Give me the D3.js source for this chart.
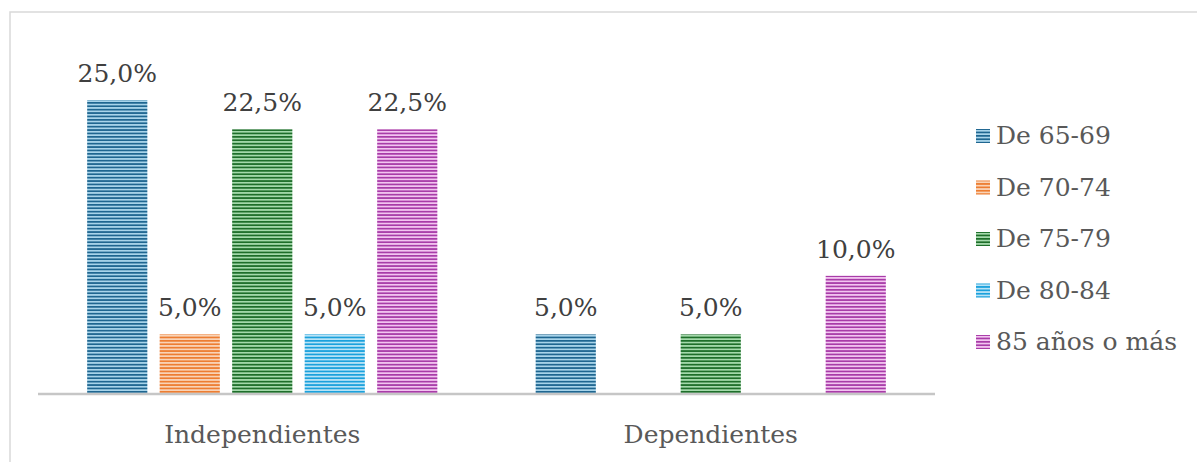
<!DOCTYPE html>
<html>
<head>
<meta charset="utf-8">
<script src="https://cdn.jsdelivr.net/npm/d3@7"></script>
<style>
  body { margin: 0; background: #fff; }
</style>
</head>
<body>
<div class="canvas"></div>
<script>
const categories = ['Independientes', 'Dependientes'];
const series = ['De 65-69', 'De 70-74', 'De 75-79', 'De 80-84', '85 años o más'];
// percent per category, one array per series
const values = {
    'De 65-69': [25.0, 5.0],
    'De 70-74': [5.0, 0],
    'De 75-79': [22.5, 5.0],
    'De 80-84': [5.0, 0],
    '85 años o más': [22.5, 10.0]
};
const darkColours = ['#1f6690', '#ed7d31', '#1e6e2a', '#1ba1dc', '#a83ca8'];
const lightColours = ['#a8d4ea', '#f9d3b6', '#a4d9ab', '#b8e3f6', '#f2c4f0'];

const dims = { width: 1197, height: 462 };
const serif = "'DejaVu Serif', serif";

const svg = d3.select('.canvas')
    .append('svg')
    .attr('width', dims.width)
    .attr('height', dims.height);

// striped fills
const defs = svg.append('defs');
series.forEach((s, i) => {
    const p = defs.append('pattern')
        .attr('id', 'stripe' + i)
        .attr('patternUnits', 'userSpaceOnUse')
        .attr('width', 8)
        .attr('height', 3.4);
    p.append('rect').attr('width', 8).attr('height', 3.4).attr('fill', lightColours[i]);
    p.append('rect').attr('width', 8).attr('height', 1.7).attr('fill', darkColours[i]);
});

// chart frame
svg.append('rect')
    .attr('x', 10).attr('y', 12)
    .attr('width', 1200).attr('height', 460)
    .attr('fill', 'none')
    .attr('stroke', '#d9d9d9')
    .attr('stroke-width', 1.5);

const plot = { left: 38, right: 935, top: 100, bottom: 393 };

const x0 = d3.scaleBand()
    .domain(categories)
    .range([plot.left, plot.right]);

const x1 = d3.scaleBand()
    .domain(series)
    .range([43, x0.bandwidth() - 43])
    .paddingInner(0.17)
    .paddingOuter(0.085);

const y = d3.scaleLinear()
    .domain([0, 25])
    .range([plot.bottom, plot.top]);

const fmt = v => v.toFixed(1).replace('.', ',') + '%';

const groups = svg.selectAll('.group')
    .data(categories)
    .enter()
    .append('g')
    .attr('class', 'group')
    .attr('transform', d => `translate(${x0(d)}, 0)`);

groups.selectAll('rect')
    .data((c, ci) => series.map((s, si) => ({ s, si, v: values[s][ci] })).filter(d => d.v > 0))
    .enter()
    .append('rect')
    .attr('x', d => x1(d.s))
    .attr('y', d => y(d.v))
    .attr('width', x1.bandwidth())
    .attr('height', d => y(0) - y(d.v))
    .attr('fill', d => `url(#stripe${d.si})`);

groups.selectAll('.label')
    .data((c, ci) => series.map((s, si) => ({ s, si, v: values[s][ci] })).filter(d => d.v > 0))
    .enter()
    .append('text')
    .attr('class', 'label')
    .attr('x', d => x1(d.s) + x1.bandwidth() / 2)
    .attr('y', d => y(d.v) - 18)
    .attr('text-anchor', 'middle')
    .attr('font-family', serif)
    .attr('font-size', 25)
    .attr('fill', '#404040')
    .text(d => fmt(d.v));

// baseline
svg.append('line')
    .attr('x1', plot.left).attr('x2', plot.right)
    .attr('y1', y(0) + 1).attr('y2', y(0) + 1)
    .attr('stroke', '#c6c6c6')
    .attr('stroke-width', 2.5);

// category labels
svg.selectAll('.cat')
    .data(categories)
    .enter()
    .append('text')
    .attr('class', 'cat')
    .attr('x', d => x0(d) + x0.bandwidth() / 2)
    .attr('y', 443)
    .attr('text-anchor', 'middle')
    .attr('font-family', serif)
    .attr('font-size', 25)
    .attr('fill', '#595959')
    .text(d => d);

// legend
const legend = svg.selectAll('.legend')
    .data(series)
    .enter()
    .append('g')
    .attr('class', 'legend')
    .attr('transform', (d, i) => `translate(976, ${135 + i * 51.5})`);

legend.append('rect')
    .attr('x', 0).attr('y', -6)
    .attr('width', 14).attr('height', 14)
    .attr('fill', (d, i) => `url(#stripe${i})`);

legend.append('text')
    .attr('x', 20)
    .attr('y', 9)
    .attr('font-family', serif)
    .attr('font-size', 25)
    .attr('fill', '#595959')
    .text(d => d);
</script>
</body>
</html>
